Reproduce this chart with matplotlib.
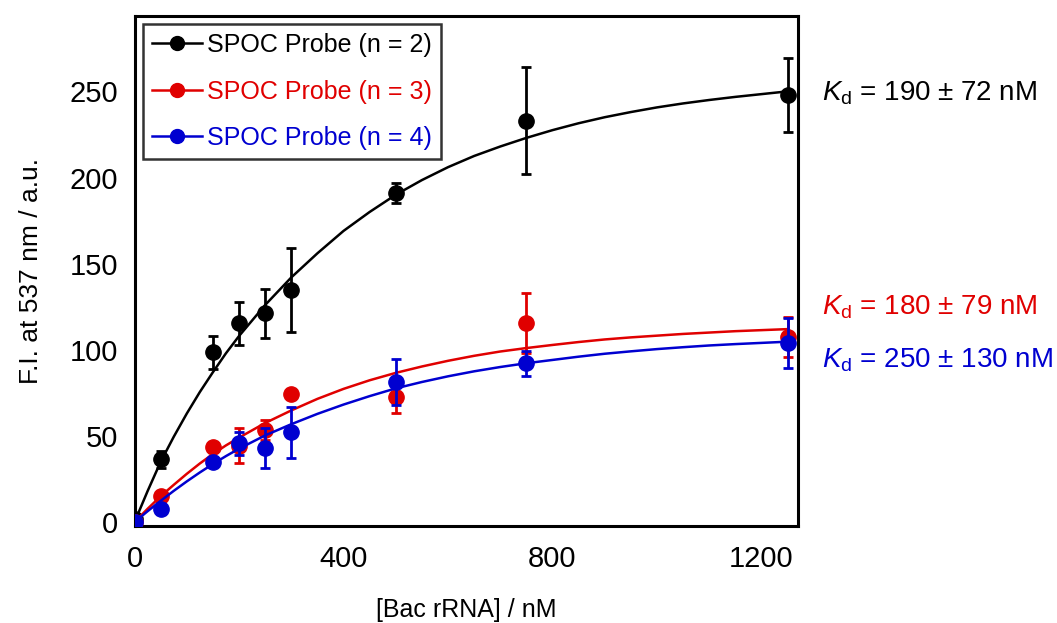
#!/usr/bin/env python
""" Plots fluorescence intensity of the SPOC probes vs. Bac rRNA concentration, with fitted binding curves. """

import matplotlib
matplotlib.use("Agg")
import matplotlib.pyplot as plt
from matplotlib.lines import Line2D

# Measured points: concentration (nM)
conc = [0, 50, 150, 200, 250, 300, 500, 750, 1250]

# n = 2 probe
fi_n2 = [2, 36.4, 98.5, 115.3, 121.1, 134.6, 190.8, 232.9, 247.8]
err_n2 = [0, 5, 9.5, 12.3, 14, 24.2, 5.8, 31, 21.5]

# n = 3 probe
fi_n3 = [0, 15.1, 43.7, 44.2, 53.4, 74.1, 72.4, 115.3, 107.5]
err_n3 = [0, 2, 2, 10.2, 5.6, 2, 9, 17.4, 11.6]

# n = 4 probe
fi_n4 = [0, 7.5, 35, 45.7, 42.8, 52, 81.4, 92.1, 103.7]
err_n4 = [0, 3, 2, 6.5, 11.6, 14.7, 13.2, 7.4, 14.5]

# Fitted curves
fit_conc = [0, 25, 50, 75, 100, 125, 150, 175, 200, 250, 300, 350, 400, 450, 500, 550,
            600, 650, 700, 750, 800, 850, 900, 950, 1000, 1050, 1100, 1150, 1200, 1250]
fit_n2 = [0, 18, 35, 49.5, 63, 75.5, 87, 98, 108, 126, 142, 156, 169, 180, 190, 198.5,
          206, 212.5, 218, 223, 227.5, 231.5, 235, 238, 240.7, 243, 245, 246.8, 248.4, 250]
fit_n3 = [0, 7.7, 15, 21.6, 28, 34, 39.5, 44.5, 49, 57.5, 64.8, 71.5, 77.3, 82.3, 86.6, 90.3,
          93.6, 96.5, 99, 101, 102.8, 104.5, 106, 107.2, 108.2, 109.2, 110, 110.8, 111.4, 112]
fit_n4 = [0, 6.3, 12.3, 18.1, 23.6, 28.8, 33.7, 38.3, 42.6, 50.3, 56.8, 62.8, 68.2, 73.1, 77.6, 81.3,
          84.6, 87.5, 90, 92.2, 94.1, 96, 97.7, 99.1, 100.4, 101.5, 102.5, 103.3, 104, 104.7]

labels = ['SPOC Probe (n = 2)', 'SPOC Probe (n = 3)', 'SPOC Probe (n = 4)']
kd_text = [r'$K_{\mathrm{d}}$ = 190 ± 72 nM',
           r'$K_{\mathrm{d}}$ = 180 ± 79 nM',
           r'$K_{\mathrm{d}}$ = 250 ± 130 nM']

colors = ['black', '#e00000', '#0000d0']


def plot_data():
    """
    Draws the three data sets with error bars, the fitted curves, the legend and the Kd labels.

    Returns
    -------
    None.
    """
    plt.rcParams['font.family'] = ['Liberation Sans', 'DejaVu Sans']
    plt.rcParams['mathtext.fontset'] = 'custom'
    plt.rcParams['mathtext.rm'] = 'Liberation Sans'
    plt.rcParams['mathtext.it'] = 'Liberation Sans:italic'

    fig, ax = plt.subplots(figsize=(10.57, 6.23), dpi=100)
    plt.subplots_adjust(left=0.1273, right=0.755, top=0.975, bottom=0.1565)

    series = [(fi_n2, err_n2, fit_n2), (fi_n3, err_n3, fit_n3), (fi_n4, err_n4, fit_n4)]

    for i, (fi, err, fit) in enumerate(series):
        ax.plot(fit_conc, fit, color=colors[i], linewidth=1.8, zorder=2 + i)
        ax.errorbar(conc, fi, yerr=err, fmt='o', color=colors[i], markersize=11,
                    elinewidth=2, capsize=3.8, capthick=2, zorder=2 + i)

    ax.set_xlim(0, 1270)
    ax.set_ylim(-2, 294)
    ax.set_xticks([0, 400, 800, 1200])
    ax.set_yticks([0, 50, 100, 150, 200, 250])
    ax.tick_params(length=0, labelsize=21)
    ax.tick_params(axis='x', pad=14)
    ax.tick_params(axis='y', pad=12)

    for spine in ax.spines.values():
        spine.set_linewidth(2.2)

    ax.set_xlabel('[Bac rRNA] / nM', fontsize=18, labelpad=18)
    ax.set_ylabel('F.I. at 537 nm / a.u.', fontsize=19, labelpad=19)

    # Legend with coloured text
    handles = [Line2D([], [], color=c, marker='o', markersize=10, linewidth=1.8) for c in colors]
    leg = ax.legend(handles, labels, loc='upper left', fontsize=18, frameon=True,
                    fancybox=False, edgecolor='black', handlelength=2.0,
                    handletextpad=0.2, labelspacing=0.9, borderaxespad=0.35,
                    borderpad=0.35)
    leg.get_frame().set_linewidth(1.8)
    for text, c in zip(leg.get_texts(), colors):
        text.set_color(c)

    # Kd labels to the right of the axes
    kd_y = [0.848, 0.428, 0.325]
    for txt, y, c in zip(kd_text, kd_y, colors):
        ax.text(1.036, y, txt, transform=ax.transAxes, fontsize=20, color=c,
                va='center', ha='left')

    fig.savefig('out.png', dpi=100)


def main():
    plot_data()


if __name__ == "__main__":
    main()
